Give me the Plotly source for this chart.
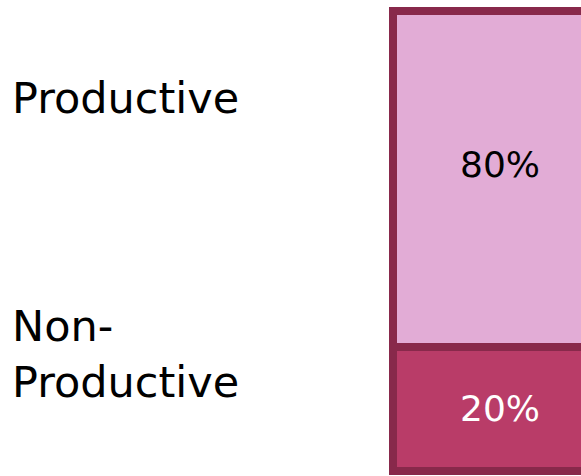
import plotly.graph_objects as go

# Data
segments = ["Non-Productive", "Productive"]          # bottom to top
percent_labels = ["20%", "80%"]
segment_heights = [27, 73]                            # visual share of the bar as pictured
label_text = ["Non-<br>Productive", "Productive"]

fill_colors = ["rgb(185,60,104)", "rgb(226,172,214)"]
text_colors = ["white", "black"]
border_color = "rgb(136,41,75)"

FONT = "DejaVu Sans"

fig = go.Figure()
for name, h, col in zip(segments, segment_heights, fill_colors):
    fig.add_trace(go.Bar(
        x=[0], y=[h], name=name,
        marker=dict(color=col, line=dict(color=border_color, width=8)),
        width=1.0, hoverinfo="skip",
    ))

# segment labels on the left
label_y = [0.257, 0.795]
for t, yy in zip(label_text, label_y):
    fig.add_annotation(text=t, xref="paper", yref="paper", x=0.018, y=yy,
                       xanchor="left", yanchor="middle", showarrow=False, align="left",
                       font=dict(family=FONT, size=43, color="black"))

# percentage labels in the bar
pct_y = [0.142, 0.655]
for t, yy, c in zip(percent_labels, pct_y, text_colors):
    fig.add_annotation(text=t, xref="paper", yref="paper", x=0.86, y=yy,
                       xanchor="center", yanchor="middle", showarrow=False,
                       font=dict(family=FONT, size=36, color=c))

fig.update_layout(
    barmode="stack", width=581, height=476,
    margin=dict(l=0, r=0, t=0, b=0),
    paper_bgcolor="white", plot_bgcolor="white",
    showlegend=False,
    xaxis=dict(range=[-2.172, 0.3], visible=False, fixedrange=True),
    yaxis=dict(range=[-1.087, 102.39], visible=False, fixedrange=True),
)
fig.write_html("out.html", config={"displayModeBar": False, "staticPlot": True},
               post_script="document.body.style.margin='0';")
